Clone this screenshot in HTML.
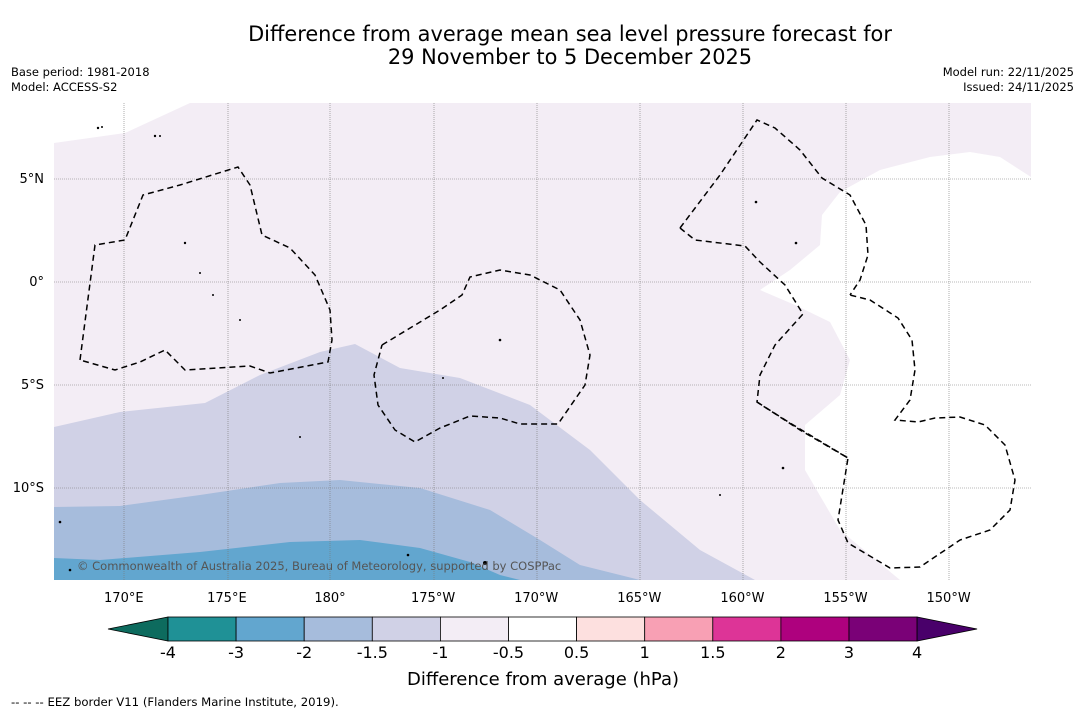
<!DOCTYPE html>
<html><head><meta charset="utf-8"><style>
body{margin:0;background:#fff;width:1085px;height:713px;overflow:hidden;font-family:"DejaVu Sans","Liberation Sans",sans-serif}
</style></head><body>
<svg width="1085" height="713" viewBox="0 0 1085 713" xmlns="http://www.w3.org/2000/svg" font-family="'DejaVu Sans','Liberation Sans',sans-serif">
<text x="570" y="41" font-size="20.9" text-anchor="middle">Difference from average mean sea level pressure forecast for</text>
<text x="570" y="64" font-size="20.9" text-anchor="middle">29 November to 5 December 2025</text>
<text x="11" y="76" font-size="11.5">Base period: 1981-2018</text>
<text x="11" y="91" font-size="11.5">Model: ACCESS-S2</text>
<text x="1074" y="76" font-size="11.5" text-anchor="end">Model run: 22/11/2025</text>
<text x="1074" y="91" font-size="11.5" text-anchor="end">Issued: 24/11/2025</text>
<defs><clipPath id="mc"><rect x="54" y="103" width="977" height="477"/></clipPath></defs>
<g clip-path="url(#mc)">
<path fill="#f3edf5" d="M54,143 L125,133 L190,103 L1031,103 L1031,177 L1000,157 L970,152 L930,157 L880,170 L840,192 L822,215 L820,245 L790,270 L760,290 L795,305 L830,322 L850,360 L840,395 L805,425 L805,470 L840,530 L900,580 L54,580 Z"/>
<path fill="#d0d1e6" d="M54,427 L120,412 L205,403 L260,375 L320,352 L355,344 L400,368 L460,378 L530,405 L590,450 L640,500 L700,550 L755,580 L54,580 Z"/>
<path fill="#a6bcdc" d="M54,507 L120,506 L200,495 L280,483 L340,480 L420,488 L490,510 L540,540 L580,565 L640,580 L54,580 Z"/>
<path fill="#62a6cf" d="M54,558 L100,560 L200,552 L290,542 L360,540 L420,548 L470,562 L500,575 L520,580 L54,580 Z"/>
<g stroke="#777" stroke-width="0.6" stroke-dasharray="1,1">
<line x1="124" y1="103" x2="124" y2="580"/><line x1="228" y1="103" x2="228" y2="580"/><line x1="330" y1="103" x2="330" y2="580"/><line x1="434" y1="103" x2="434" y2="580"/><line x1="537" y1="103" x2="537" y2="580"/><line x1="640" y1="103" x2="640" y2="580"/><line x1="743" y1="103" x2="743" y2="580"/><line x1="846" y1="103" x2="846" y2="580"/><line x1="949" y1="103" x2="949" y2="580"/>
<line x1="54" y1="179" x2="1031" y2="179"/><line x1="54" y1="282" x2="1031" y2="282"/><line x1="54" y1="385" x2="1031" y2="385"/><line x1="54" y1="488" x2="1031" y2="488"/>
</g>
<g fill="none" stroke="#000" stroke-width="1.5" stroke-dasharray="6,4">
<path d="M80,360 L95,245 L125,240 L143,195 L180,185 L238,167 L250,185 L262,235 L290,248 L315,275 L330,310 L332,340 L328,362 L270,373 L250,366 L185,370 L165,350 L140,362 L115,370 L80,360"/>
<path d="M382,345 L440,310 L462,295 L470,277 L500,270 L530,275 L560,290 L580,320 L590,355 L585,385 L558,424 L520,424 L500,418 L470,416 L440,428 L415,442 L395,430 L378,405 L374,375 L382,345"/>
<path d="M680,228 L720,175 L757,120 L775,128 L800,150 L822,178 L850,195 L866,225 L868,255 L860,280 L850,295"/>
<path d="M680,228 L695,240 L745,246 L760,262 L785,285 L803,314 L775,345 L760,375 L757,402 L800,430 L848,458 L838,520 L848,543 L890,568 L920,567 L960,540 L990,530 L1010,510 L1015,480 L1005,445 L985,425 L960,417 L935,418 L918,422 L895,420 L910,400 L915,370 L912,340 L898,318 L870,300 L850,295"/>
<path d="M757,402 L790,423 L848,458"/>
</g>
<g fill="#000">
<circle cx="98" cy="128" r="1.2"/><circle cx="102" cy="127" r="1"/><circle cx="155" cy="136" r="1.2"/><circle cx="160" cy="136" r="1"/><circle cx="185" cy="243" r="1.2"/><circle cx="200" cy="273" r="1"/><circle cx="213" cy="295" r="1"/><circle cx="240" cy="320" r="1"/><circle cx="500" cy="340" r="1.3"/><circle cx="756" cy="202" r="1.3"/><circle cx="796" cy="243" r="1.3"/><circle cx="783" cy="468" r="1.3"/><circle cx="720" cy="495" r="1"/><circle cx="60" cy="522" r="1.3"/><circle cx="70" cy="570" r="1.3"/><circle cx="408" cy="555" r="1.3"/><circle cx="485" cy="563" r="2"/><circle cx="300" cy="437" r="1"/><circle cx="443" cy="378" r="1"/></g>
<text x="77" y="570" font-size="11.5" fill="#555">© Commonwealth of Australia 2025, Bureau of Meteorology, supported by COSPPac</text>
</g>
<g id="axes" font-size="13"></g>
<g id="cbar"></g>
<text x="543" y="685" font-size="18" text-anchor="middle">Difference from average (hPa)</text>
<text x="11" y="706" font-size="11.7">--  --  -- EEZ border V11 (Flanders Marine Institute, 2019).</text>
</svg>
<script>
const lonLabels=["170°E","175°E","180°","175°W","170°W","165°W","160°W","155°W","150°W"];
const lonValues=[170,175,180,185,190,195,200,205,210];
const latLabels=["5°N","0°","5°S","10°S"];
const latValues=[5,0,-5,-10];
const levelLabels=["-4","-3","-2","-1.5","-1","-0.5","0.5","1","1.5","2","3","4"];
const levelColors=["#1f9196","#62a6cf","#a6bcdc","#d0d1e6","#f3edf5","#ffffff","#fde0df","#f8a0b4","#dd3497","#ae017e","#7a0177"];
const NS="http://www.w3.org/2000/svg";
const xLon=v=>330+(v-180)*20.62;
const yLat=v=>282-v*20.6;
const ax=document.getElementById('axes');
lonValues.forEach((v,i)=>{const t=document.createElementNS(NS,'text');
t.setAttribute('x',xLon(v));t.setAttribute('y',602);t.setAttribute('text-anchor','middle');t.textContent=lonLabels[i];


ax.appendChild(t);});
latValues.forEach((v,i)=>{const t=document.createElementNS(NS,'text');
t.setAttribute('x',44);t.setAttribute('y',yLat(v)+4);t.setAttribute('text-anchor','end');t.textContent=latLabels[i];


ax.appendChild(t);});
const cb=document.getElementById('cbar');
const x0=168,bw=68.1,y0=617,h=24;
function add(tag,attrs){const e=document.createElementNS(NS,tag);for(const k in attrs)e.setAttribute(k,attrs[k]);cb.appendChild(e);return e;}
const lt=add('polygon',{points:`108,${y0+h/2} ${x0},${y0} ${x0},${y0+h}`,fill:'#0d6b5e',stroke:'#000','stroke-width':0.8});


levelColors.forEach((c,i)=>{const r=add('rect',{x:x0+i*bw,y:y0,width:bw,height:h,fill:c,stroke:'#000','stroke-width':0.8});

});
const xe=x0+levelColors.length*bw;
const rt=add('polygon',{points:`${xe},${y0} ${xe+60},${y0+h/2} ${xe},${y0+h}`,fill:'#49006a',stroke:'#000','stroke-width':0.8});


levelLabels.forEach((l,i)=>{const t=add('text',{x:x0+i*bw,y:658,'font-size':16,'text-anchor':'middle'});t.textContent=l;

});
</script>
</body></html>
